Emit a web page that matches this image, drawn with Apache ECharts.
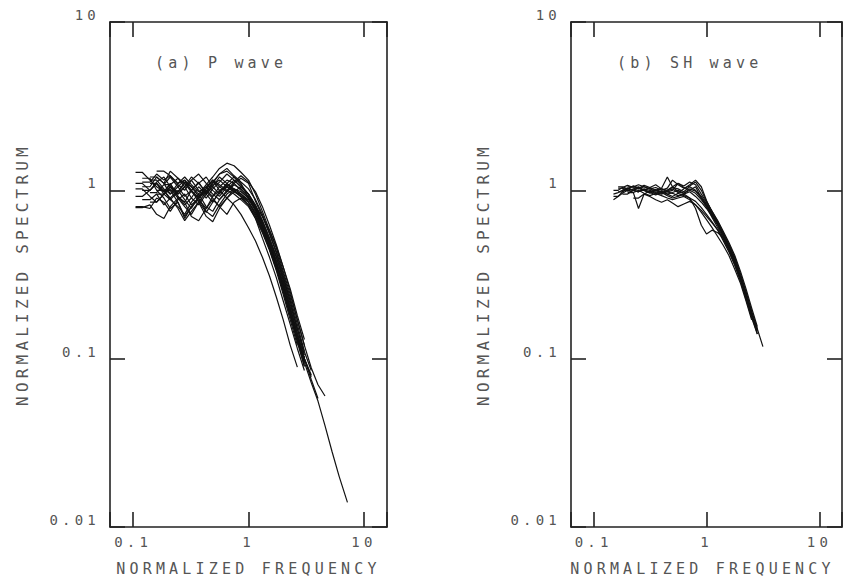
<!DOCTYPE html>
<html>
<head>
<meta charset="utf-8">
<script src="https://cdn.jsdelivr.net/npm/echarts@6/dist/echarts.min.js"></script>
<style>
html,body{margin:0;padding:0;background:#fff;}
#chart{width:845px;height:583px;}
#chart svg text{letter-spacing:4.2px;}
</style>
</head>
<body>
<div id="chart"></div>
<script>
// ---------- data ----------
const X_TICKS = [0.1, 1, 10];
const Y_TICKS = [0.01, 0.1, 1, 10];
const X_LABELS = ['0.1', '1', '10'];
const Y_LABELS = ['0.01', '0.1', '1', '10'];
const X_NAME = 'NORMALIZED FREQUENCY';
const Y_NAME = 'NORMALIZED SPECTRUM';
const TITLE_A = '(a) P wave';
const TITLE_B = '(b) SH wave';

// P wave: frequency grid
const P_FREQ = [0.105,0.12,0.14,0.16,0.185,0.21,0.245,0.28,0.32,0.37,0.43,0.49,0.56,0.65,0.75,0.86,1.0,1.15,1.32,1.52,1.75,2.0,2.3,2.65,3.05,3.5,4.0,4.6,5.3,6.1,7.2];
// each curve: start index in P_FREQ, then spectrum values
const P1  = [0, [1.28,1.28,1.15,1.05,0.98,1.1,0.92,0.85,1.0,1.12,0.95,1.05,1.2,1.1,1.02,0.95,0.85,0.72,0.58,0.45,0.34,0.25,0.18,0.13,0.1]];
const P2  = [0, [0.8,0.8,0.78,0.9,0.85,0.75,0.88,0.95,0.82,0.9,1.0,0.92,1.05,1.15,1.1,1.0,0.9,0.78,0.62,0.5,0.4,0.3,0.22,0.15]];
const P3  = [1, [1.05,1.05,1.2,1.1,0.95,1.05,1.15,1.0,0.9,0.98,1.1,1.25,1.3,1.2,1.08,0.95,0.82,0.66,0.52,0.4,0.29,0.2,0.14,0.1,0.075,0.058]];
const P4  = [1, [1.18,1.18,1.0,0.9,0.78,0.85,0.7,0.8,0.88,0.78,0.92,1.0,1.05,0.98,0.92,0.88,0.8,0.7,0.58,0.46,0.35,0.26,0.18,0.13]];
const P5  = [2, [0.97,0.97,1.08,1.2,1.05,0.92,1.0,1.1,1.2,1.05,0.95,1.1,1.2,1.1,0.9,0.76,0.6,0.47,0.36,0.27,0.19,0.13,0.095,0.072,0.056,0.04,0.028,0.02,0.014]];
const P6  = [3, [1.3,1.3,1.22,1.1,1.15,1.05,0.95,1.08,1.2,1.35,1.45,1.4,1.28,1.15,0.95,0.75,0.58,0.45,0.33,0.24,0.17,0.12,0.088,0.07,0.06]];
const P7  = [0, [0.92,0.92,1.0,1.1,1.0,0.88,0.8,0.72,0.85,0.95,0.8,0.75,0.88,1.0,0.95,0.88,0.8,0.68,0.56,0.44,0.33,0.24,0.17,0.12]];
const P8  = [2, [1.1,1.1,0.95,0.88,0.98,1.12,1.05,0.92,1.02,1.15,1.05,0.98,1.1,1.18,1.1,0.86,0.7,0.55,0.42,0.31,0.22,0.15,0.11,0.085]];
const P9  = [4, [1.0,1.0,0.85,0.68,0.8,0.9,0.75,0.7,0.82,0.95,1.02,0.98,0.9,0.8,0.66,0.52,0.4,0.3,0.21,0.15,0.105]];
const P10 = [0, [0.79,0.79,0.82,0.72,0.68,0.8,0.9,0.85,0.7,0.66,0.78,0.88,0.8,0.72,0.85,0.9,0.82,0.7,0.57,0.45,0.34,0.25,0.18,0.13,0.095]];
const P11 = [1, [1.12,1.12,1.25,1.15,1.22,1.08,1.0,1.15,1.25,1.1,1.0,0.92,1.05,1.15,1.05,0.95,0.78,0.6,0.45,0.34,0.25,0.18,0.125,0.09]];
const P12 = [3, [0.95,0.95,1.05,0.92,0.82,0.9,1.05,0.95,0.85,0.98,1.1,1.0,0.92,0.82,0.68,0.52,0.4,0.3,0.22,0.16,0.115,0.085]];
const P13 = [2, [1.2,1.2,1.1,1.3,1.18,1.05,1.2,1.1,0.98,1.12,1.25,1.35,1.22,1.12,1.02,0.88,0.72,0.56,0.43,0.32,0.23,0.16,0.11]];
const P14 = [0, [1.02,1.02,0.92,0.85,0.95,1.05,0.98,1.1,1.0,0.86,0.74,0.85,0.98,1.08,1.0,0.92,0.85,0.74,0.6,0.47,0.36,0.26,0.19,0.135,0.1,0.078]];
const P15 = [4, [1.08,1.08,0.95,1.05,1.15,1.0,0.9,1.02,1.12,1.25,1.15,1.05,0.95,0.8,0.64,0.5,0.37,0.27,0.19,0.135,0.095]];
const P16 = [1, [0.88,0.88,0.95,0.82,0.9,1.0,0.88,0.78,0.92,1.05,0.95,0.88,0.98,1.08,1.02,0.92,0.78,0.62,0.48,0.36,0.27,0.19,0.13,0.09]];
const P17 = [3, [1.0,1.0,0.9,0.78,0.66,0.75,0.85,0.7,0.65,0.78,0.9,0.98,0.95,0.88,0.76,0.62,0.49,0.37,0.28,0.2,0.14,0.1,0.08]];
const P18 = [2, [1.15,1.15,1.02,0.95,1.1,1.2,1.08,0.98,1.05,1.15,1.0,0.9,0.82,0.72,0.6,0.5,0.4,0.31,0.23,0.17,0.12,0.089]];
const P19 = [0, [1.1,1.1,1.0,1.12,1.2,1.05,0.95,1.05,0.9,0.82,0.95,1.08,1.15,1.05,0.98,1.05,0.95,0.8,0.64,0.5,0.38,0.28,0.2,0.14,0.1]];
const P20 = [2, [0.85,0.85,0.95,1.02,0.9,0.8,0.72,0.85,0.98,0.9,0.8,0.9,1.02,0.95,0.85,0.72,0.58,0.46,0.35,0.26,0.19,0.14,0.1]];
const P21 = [1, [1.0,1.0,1.1,0.98,1.08,1.18,1.1,0.98,0.9,1.02,1.15,1.08,1.0,1.12,1.22,1.12,0.98,0.8,0.62,0.47,0.35,0.25,0.17,0.12]];
const P_CURVES = [P1,P2,P3,P4,P5,P6,P7,P8,P9,P10,P11,P12,P13,P14,P15,P16,P17,P18,P19,P20,P21];

// SH wave: frequency grid
const S_FREQ = [0.15,0.165,0.18,0.2,0.225,0.25,0.28,0.315,0.355,0.4,0.45,0.5,0.56,0.63,0.71,0.8,0.9,1.0,1.12,1.26,1.41,1.58,1.78,2.0,2.24,2.51,2.82,3.16];
const S1  = [0, [0.88,0.92,0.98,1.02,1.0,0.98,1.02,1.0,0.97,0.95,0.98,0.96,0.93,0.95,0.98,0.92,0.85,0.78,0.7,0.62,0.54,0.46,0.38,0.3,0.24,0.19,0.15,0.118]];
const S2  = [1, [1.05,1.05,1.02,1.06,1.03,1.0,1.04,1.08,1.02,1.0,1.05,1.1,1.06,1.12,1.08,0.95,0.85,0.75,0.65,0.56,0.48,0.4,0.32,0.25,0.19]];
const S3  = [2, [0.95,0.95,1.0,1.04,1.0,0.96,1.0,1.03,1.2,1.05,0.98,0.96,1.0,1.05,0.9,0.82,0.72,0.63,0.55,0.47,0.39,0.31,0.24,0.185,0.145]];
const S4  = [0, [0.92,0.92,0.96,1.0,0.97,0.78,0.95,0.99,0.96,0.93,0.9,0.88,0.9,0.92,0.88,0.82,0.76,0.7,0.64,0.58,0.5,0.43,0.36,0.29,0.23,0.18]];
const S5  = [3, [1.05,1.05,1.08,1.05,1.02,1.04,1.0,1.03,1.15,1.08,1.03,1.06,1.12,1.0,0.86,0.75,0.66,0.57,0.49,0.41,0.33,0.26,0.2,0.155]];
const S6  = [1, [0.98,0.98,1.03,1.0,0.98,1.01,0.97,0.94,0.97,0.93,0.9,0.92,0.95,0.9,0.78,0.62,0.55,0.58,0.56,0.52,0.45,0.38,0.3,0.235,0.18]];
const S7  = [2, [1.02,1.02,1.06,1.03,1.07,1.04,1.0,0.97,1.0,1.04,1.02,0.98,1.05,1.0,0.92,0.83,0.73,0.64,0.55,0.46,0.38,0.3,0.235,0.18,0.14]];
const S8  = [0, [1.0,1.0,1.04,1.07,1.04,1.02,1.05,1.02,0.99,1.02,0.98,1.0,1.1,1.04,1.0,0.96,0.88,0.8,0.71,0.62,0.53,0.45,0.37,0.3,0.235]];
const S9  = [4, [0.9,0.9,0.95,0.92,0.88,0.85,0.88,0.84,0.8,0.83,0.86,0.82,0.74,0.67,0.6,0.53,0.47,0.41,0.34,0.28,0.22,0.17]];
const S10 = [1, [1.03,1.03,0.99,1.02,1.05,1.0,0.97,1.0,0.96,0.99,1.02,0.97,1.02,1.08,1.15,1.05,0.87,0.74,0.64,0.55,0.47,0.39,0.31,0.245,0.19,0.15]];
const S11 = [3, [0.97,0.97,1.0,0.96,0.93,0.96,0.99,0.95,0.92,0.96,0.93,0.9,0.86,0.79,0.72,0.65,0.58,0.51,0.44,0.37,0.3,0.24,0.185]];
const S12 = [0, [0.95,0.97,1.0,1.03,1.0,1.03,1.0,0.98,1.01,0.98,0.95,0.97,1.0,0.96,1.02,0.99,0.9,0.8,0.69,0.6,0.52,0.44,0.36,0.29,0.225,0.175,0.14]];
const S_CURVES = [S1,S2,S3,S4,S5,S6,S7,S8,S9,S10,S11,S12];

// ---------- chart ----------
const FONT = 'DejaVu Sans Mono';
const TEXT_COLOR = '#555';
const LINE_COLOR = '#222';
const X_MIN = 0.0631, X_MAX = 15.85, Y_MIN = 0.01, Y_MAX = 10;

function fmt(ticks, labels) {
  return function (v) {
    for (let i = 0; i < ticks.length; i++) {
      if (Math.abs(Math.log10(v) - Math.log10(ticks[i])) < 1e-6) return labels[i];
    }
    return '';
  };
}

function xAx(grid, pos, namePad) {
  const bottom = pos === 'bottom';
  return {
    type: 'log', logBase: 10, gridIndex: grid, position: pos,
    min: X_MIN, max: X_MAX,
    name: bottom ? X_NAME : '', nameLocation: 'middle', nameGap: 34,
    nameTextStyle: { fontFamily: FONT, fontSize: 15, color: TEXT_COLOR, padding: namePad || 0 },
    axisLine: { show: true, onZero: false, lineStyle: { color: LINE_COLOR, width: 1.6 } },
    axisTick: { show: true, inside: true, length: 15, lineStyle: { color: LINE_COLOR, width: 1.6 } },
    minorTick: { show: false },
    splitLine: { show: false },
    axisLabel: { show: bottom, formatter: fmt(X_TICKS, X_LABELS), fontFamily: FONT, fontSize: 14, color: TEXT_COLOR, margin: 8 }
  };
}
function yAx(grid, pos) {
  const left = pos === 'left';
  return {
    type: 'log', logBase: 10, gridIndex: grid, position: pos,
    min: Y_MIN, max: Y_MAX,
    name: left ? Y_NAME : '', nameLocation: 'middle', nameGap: 80,
    nameTextStyle: { fontFamily: FONT, fontSize: 16, color: TEXT_COLOR },
    axisLine: { show: true, onZero: false, lineStyle: { color: LINE_COLOR, width: 1.6 } },
    axisTick: { show: true, inside: true, length: 15, lineStyle: { color: LINE_COLOR, width: 1.6 } },
    minorTick: { show: false },
    splitLine: { show: false },
    axisLabel: { show: left, formatter: fmt(Y_TICKS, Y_LABELS), fontFamily: FONT, fontSize: 14, color: TEXT_COLOR, margin: 10, verticalAlign: 'bottom' }
  };
}

function mkSeries(curves, freq, xi, yi) {
  return curves.map(function (c) {
    const s = c[0], vals = c[1];
    return {
      type: 'line', xAxisIndex: xi, yAxisIndex: yi,
      data: vals.map(function (v, k) { return [freq[s + k], v]; }),
      showSymbol: false, symbol: 'none', smooth: false,
      lineStyle: { color: '#111', width: 1.2 },
      silent: true, animation: false
    };
  });
}

const chart = echarts.init(document.getElementById('chart'), null, { renderer: 'svg' });
chart.setOption({
  backgroundColor: '#fff',
  animation: false,
  title: [
    { text: TITLE_A, left: 150, top: 50, textStyle: { fontFamily: FONT, fontSize: 15, fontWeight: 'normal', color: TEXT_COLOR } },
    { text: TITLE_B, left: 612, top: 50, textStyle: { fontFamily: FONT, fontSize: 15, fontWeight: 'normal', color: TEXT_COLOR } }
  ],
  grid: [
    { left: 110, top: 22, width: 277, height: 505 },
    { left: 571, top: 22, width: 282, height: 505 }
  ],
  xAxis: [xAx(0, 'bottom'), xAx(0, 'top'), xAx(1, 'bottom', [0, 8, 0, 0]), xAx(1, 'top')],
  yAxis: [yAx(0, 'left'), yAx(0, 'right'), yAx(1, 'left'), yAx(1, 'right')],
  series: mkSeries(P_CURVES, P_FREQ, 0, 0).concat(mkSeries(S_CURVES, S_FREQ, 2, 2))
});
</script>
</body>
</html>
